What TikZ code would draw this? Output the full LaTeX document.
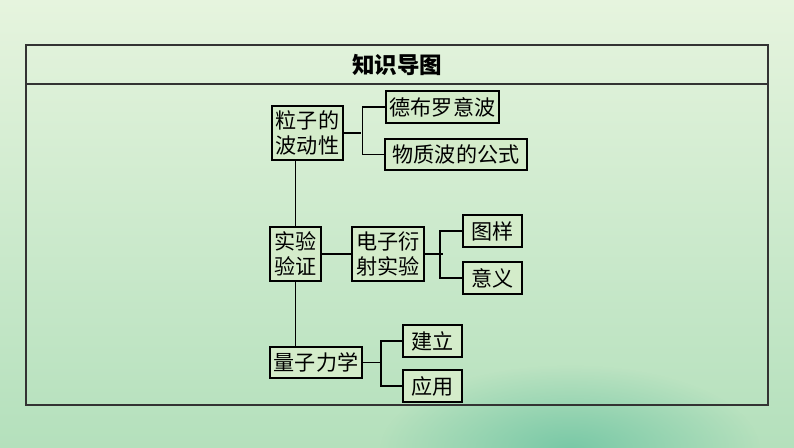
\documentclass[tikz,border=0pt]{standalone}
\usepackage{fontspec}
\newfontfamily\cjk{Noto Sans CJK SC}
\usetikzlibrary{positioning,calc,fadings}
\definecolor{bgtop}{HTML}{E6F4DE}
\definecolor{bgmid}{HTML}{D0EBC8}
\definecolor{bgbot}{HTML}{B4E0BC}
\definecolor{splash}{HTML}{78C8A6}
\definecolor{boxfill}{HTML}{D4ECCA}
\tikzfading[name=softspot, inner color=transparent!0, outer color=transparent!100]

\begin{document}
\begin{tikzpicture}[
    x=0.025cm, y=-0.025cm,
    font=\cjk\fontsize{15}{18}\selectfont,
    topic/.style={draw=black, line width=1.4pt, fill=boxfill, inner xsep=3pt, inner ysep=3pt, align=center},
    leaf/.style={topic, minimum width=1.48cm, minimum height=0.78cm},
    link/.style={line width=1.1pt, draw=black}
  ]
    % background and frame
    \useasboundingbox (0,0) rectangle (794,447);
    \clip (0,0) rectangle (794,447);
    \shade[top color=bgtop, middle color=bgmid, bottom color=bgbot] (0,0) rectangle (794,447);
    \fill[splash, path fading=softspot] (570,450) ellipse (190 and 85);
    \draw[line width=0.8pt, draw=black!80] (26,45) rectangle (768,405);
    \draw[line width=0.8pt, draw=black!80] (26,84) -- (768,84);
    \node[font=\cjk\bfseries\fontsize{16}{18}\selectfont] (title) at (397,65) {知识导图};

    % first level
    \node[topic] (p) at (307.5,133) {粒子的\\波动性};
    \node[topic] (sy) at (295.5,254) {实验\\验证};
    \node[topic, minimum height=0.78cm] (lz) at (316,362.5) {量子力学};
    \draw[link] (sy.north) -- (sy.north |- p.south);
    \draw[link] (sy.south) -- (sy.south |- lz.north);

    % branches
    \node[leaf] (db) at (442.5,107) {德布罗意波};
    \node[leaf, minimum width=3.55cm] (wz) at (456,154.5) {物质波的公式};
    \draw[link] (p.east) -- ++(17,0);
    \draw[link] (db.west) -- ++(-22,0) |- (wz.west);

    \node[topic] (dz) at (388,254) {电子衍\\射实验};
    \draw[link] (sy.east) -- (dz.west);
    \node[leaf] (ty) at (492.5,231) {图样};
    \node[leaf] (yy) at (492.5,278) {意义};
    \draw[link] (dz.east) -- ++(18,0);
    \draw[link] (ty.west) -- ++(-22,0) |- (yy.west);

    \node[leaf] (jl) at (432.5,341) {建立};
    \node[leaf] (yong) at (432.5,386) {应用};
    \draw[link] (lz.east) -- ++(19,0);
    \draw[link] (jl.west) -- ++(-21,0) |- (yong.west);
  \end{tikzpicture}
\end{document}
